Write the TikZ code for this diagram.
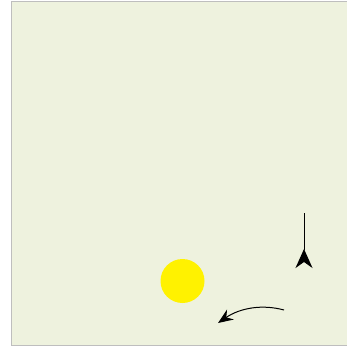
\documentclass[tikz,border=0pt]{standalone}
\usetikzlibrary{arrows.meta}
\definecolor{bgpanel}{RGB}{238,242,222}
\definecolor{panelborder}{RGB}{190,190,190}
\tikzset{
  panel/.style={fill=bgpanel,draw=panelborder,line width=1pt},
  sun/.style={circle,fill=yellow,inner sep=0pt,minimum size=44pt},
  arr/.style={line width=1pt,black},
}
\begin{document}
\begin{tikzpicture}[x=1pt,y=-1pt]
\useasboundingbox (0,0) rectangle (346,347);
\draw[panel] (11,2) -- (348,2) (11,2) -- (11,345) -- (348,345);
\fill[bgpanel] (11.5,2.5) rectangle (348,344.5);
\node[sun] (s) at (182.5,281) {};
\coordinate (vtop) at (304,213);
\coordinate (vbot) at (304,268);
\draw[arr,-{Stealth[reversed,length=19pt,width=17pt,inset=6pt]}] (vtop) -- (vbot);
\coordinate (cstart) at (284,310);
\coordinate (cend) at (218,323);
\draw[arr,-{Stealth[length=15pt,width=12pt,inset=5pt]}] (cstart) .. controls (262,304) and (240,308) .. (cend);
\end{tikzpicture}
\end{document}
